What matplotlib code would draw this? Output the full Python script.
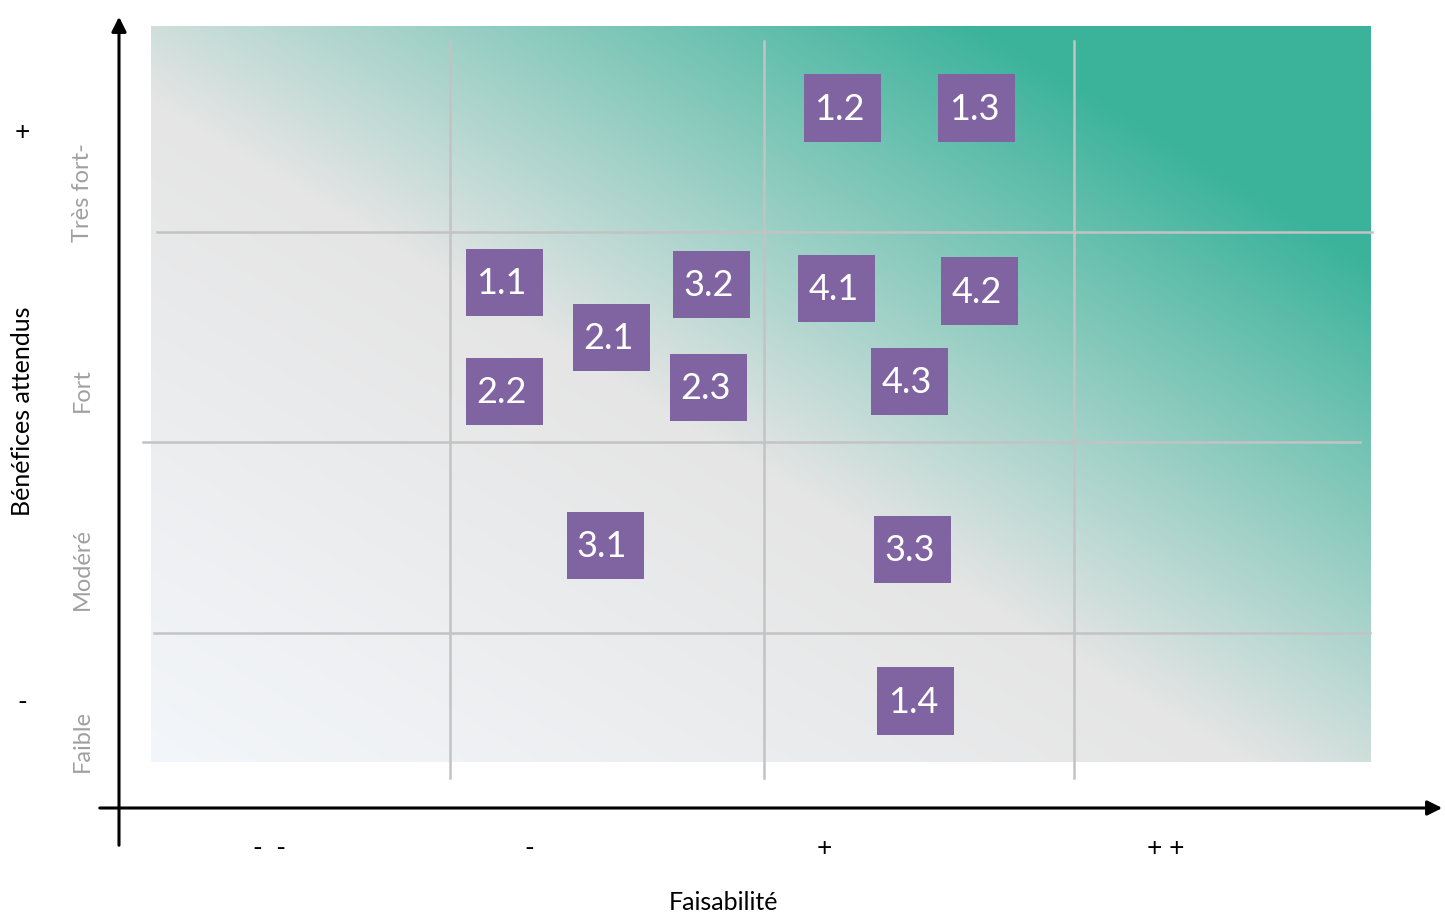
import numpy as np
import matplotlib.pyplot as plt
from matplotlib.patches import Rectangle

plt.rcParams['font.family'] = ['Lato', 'DejaVu Sans']

# projects: label, feasibility (x), expected benefit (y)
labels = ['1.2', '1.3', '1.1', '3.2', '4.1', '4.2', '2.1', '2.2', '2.3', '4.3', '3.1', '3.3', '1.4']
feas = [2.27, 2.71, 1.16, 1.84, 2.25, 2.72, 1.51, 1.16, 1.83, 2.49, 1.49, 2.50, 2.51]
benef = [3.11, 3.11, 2.28, 2.27, 2.25, 2.24, 2.02, 1.76, 1.78, 1.81, 1.03, 1.01, 0.29]

x_ticks = ['-  -', '-', '+', '+ +']
x_tick_pos = [0.39, 1.24, 2.21, 3.33]
y_cats = ['Très fort-', 'Fort', 'Modéré', 'Faible']
y_cat_pos = [2.71, 1.77, 0.92, 0.10]
v_grid = [0.98, 2.01, 3.03]
h_grid = [2.52, 1.52, 0.615]

W, H = 1445, 913
fig = plt.figure(figsize=(W / 100, H / 100), dpi=100)
ax = fig.add_axes([151 / W, (H - 762) / H, 1219 / W, 736 / H])
ax.set_xlim(0, 4)
ax.set_ylim(0, 3.5)
ax.axis('off')

# diagonal gradient background
u = np.linspace(0, 1, 400)
v = np.linspace(1, 0, 300)
uu, vv = np.meshgrid(u, v)
t = (uu + vv) / 2
stops = [0.0, 0.45, 0.84, 1.0]
cols = np.array([[243, 246, 250], [229, 229, 229], [59, 179, 155], [59, 179, 155]]) / 255.
img = np.dstack([np.interp(t, stops, cols[:, i]) for i in range(3)])
ax.imshow(img, extent=(0, 4, 0, 3.5), aspect='auto', zorder=0, interpolation='bilinear')

gc = '#c3c3c3'
for xv in v_grid:
    ax.plot([xv, xv], [-0.076, 3.43], color=gc, lw=1.8, clip_on=False, zorder=1)
ax.plot([0.02, 4.007], [h_grid[0]] * 2, color=gc, lw=1.8, clip_on=False, zorder=1)
ax.plot([-0.026, 3.967], [h_grid[1]] * 2, color=gc, lw=1.8, clip_on=False, zorder=1)
ax.plot([0.01, 4.0], [h_grid[2]] * 2, color=gc, lw=1.8, clip_on=False, zorder=1)

bw, bh = 0.2527, 0.319
for lab, x, y in zip(labels, feas, benef):
    ax.add_patch(Rectangle((x - bw / 2, y - bh / 2), bw, bh, facecolor='#8064a2',
                           edgecolor='none', zorder=3))
    ax.text(x - 0.01, y - 0.005, lab, color='white', fontsize=26, ha='center', va='center', zorder=4)

# axis arrows
ax.annotate('', xy=(119, H - 14), xytext=(119, H - 848), xycoords='figure pixels',
            textcoords='figure pixels',
            arrowprops=dict(arrowstyle='-|>', color='black', lw=2.2, mutation_scale=22))
ax.annotate('', xy=(1445, H - 808), xytext=(97, H - 808), xycoords='figure pixels',
            textcoords='figure pixels',
            arrowprops=dict(arrowstyle='-|>', color='black', lw=2.2, mutation_scale=22))

for lab, x in zip(x_ticks, x_tick_pos):
    ax.text(x, -0.41, lab, fontsize=19, ha='center', va='center', clip_on=False)
ax.text(1.88, -0.67, 'Faisabilité', fontsize=18, ha='center', va='center')

for lab, y in zip(y_cats, y_cat_pos):
    ax.text(-0.226, y, lab, fontsize=17, color='#a0a0a0', rotation=90, ha='center', va='center')
ax.text(-0.423, 2.995, '+', fontsize=19, ha='center', va='center')
ax.text(-0.423, 0.281, '-', fontsize=19, ha='center', va='center')
ax.text(-0.423, 1.667, 'Bénéfices attendus', fontsize=18, rotation=90, ha='center', va='center')

fig.savefig('out.png', dpi=100)
